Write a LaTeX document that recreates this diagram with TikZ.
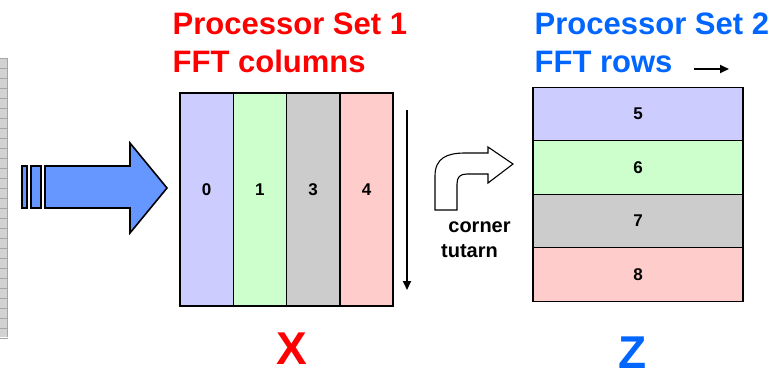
\documentclass[tikz,border=0pt]{standalone}
\usepackage{fontspec}
\setmainfont{Liberation Sans}
\usetikzlibrary{arrows.meta}

\definecolor{setred}{RGB}{255,0,0}
\definecolor{setblue}{RGB}{0,102,255}
\definecolor{arrowblue}{RGB}{102,150,255}
\definecolor{cellblue}{RGB}{204,204,255}
\definecolor{cellgreen}{RGB}{204,255,204}
\definecolor{cellgray}{RGB}{204,204,204}
\definecolor{cellpink}{RGB}{255,204,204}

\tikzset{
  cell/.style={draw=black,line width=1.4pt,inner sep=0pt,
    font=\bfseries\fontsize{17}{17}\selectfont},
  colcell/.style={cell,minimum width=53.3pt,minimum height=213pt},
  rowcell/.style={cell,minimum width=210pt,minimum height=53.5pt},
  settitle/.style={font=\bfseries\fontsize{31}{38}\selectfont,align=left,
    anchor=north west,inner sep=0pt},
  matname/.style={font=\bfseries\fontsize{46}{46}\selectfont,inner sep=0pt},
  turnlabel/.style={font=\bfseries\fontsize{20}{20}\selectfont,anchor=base,inner sep=0pt},
  flow/.style={-{Triangle[length=9pt,width=8pt]},line width=1.8pt}
}

\begin{document}
\begin{tikzpicture}[x=1pt,y=-1pt]
         \useasboundingbox (0,0) rectangle (779,376) ;
         % grid strip on the left edge
         \fill[gray!35] (0,58) rectangle (8,337) ;
         \foreach \yy in {58,68,...,338}
            \draw[gray!70,line width=0.8pt] (0,\yy) -- (8,\yy) ;
         \draw[gray!70,line width=1pt] (7,58) -- (7,337) ;

         % big input arrow
         \draw[fill=arrowblue,line width=1.6pt,line join=miter]
            (45,166) -- (130,166) -- (130,143) -- (167,188) -- (130,233)
            -- (130,208) -- (45,208) -- cycle ;
         \draw[fill=arrowblue,line width=1.6pt] (22,166) rectangle (27,208) ;
         \draw[fill=arrowblue,line width=1.6pt] (31,166) rectangle (41,208) ;

         % X : columns
         \node[colcell,fill=cellblue]  (c0) at (206.6,199.5) {} ;
         \node[colcell,fill=cellgreen] (c1) at (259.9,199.5) {} ;
         \node[colcell,fill=cellgray]  (c3) at (313.2,199.5) {} ;
         \node[colcell,fill=cellpink]  (c4) at (366.5,199.5) {} ;
         \node[cell,draw=none] at ([yshift=9.5pt]c0.center) {0} ;
         \node[cell,draw=none] at ([yshift=9.5pt]c1.center) {1} ;
         \node[cell,draw=none] at ([yshift=9.5pt]c3.center) {3} ;
         \node[cell,draw=none] at ([yshift=9.5pt]c4.center) {4} ;
         \coordinate (downtop) at (407,110) ;
         \coordinate (downend) at (407,290) ;
         \draw[flow] (downtop) -- (downend) ;

         \node[settitle,text=setred] (set1) at (172.5,13)
            {Processor Set 1\\FFT columns} ;
         \node[matname,text=setred] (xname) at (292,349) {X} ;

         % corner turn
         \draw[fill=white,line width=1.1pt,line join=miter]
            (435,210) -- (435,176) .. controls (435,158) and (447,153) .. (465,153)
            -- (488,153) -- (488,147) -- (513,164) -- (488,183) -- (488,174)
            -- (467,174) .. controls (460,174) and (457,177) .. (457,184)
            -- (457,210) -- cycle ;
         \node[turnlabel] (corner) at (479.5,232) {corner} ;
         \node[turnlabel] (tutarn) at (469.5,257) {tutarn} ;

         % Z : rows
         \node[rowcell,fill=cellblue]  (r5) at (638,114)   {5} ;
         \node[rowcell,fill=cellgreen] (r6) at (638,167.5) {6} ;
         \node[rowcell,fill=cellgray]  (r7) at (638,221)   {7} ;
         \node[rowcell,fill=cellpink]  (r8) at (638,274.5) {8} ;

         \node[settitle,text=setblue] (set2) at (534.5,13)
            {Processor Set 2\\FFT rows} ;
         \coordinate (rowsfrom) at (694,69) ;
         \coordinate (rowsto) at (729,69) ;
         \draw[flow] (rowsfrom) -- (rowsto) ;
         \node[matname,text=setblue] (zname) at (633,353) {Z} ;
      \end{tikzpicture}
\end{document}
